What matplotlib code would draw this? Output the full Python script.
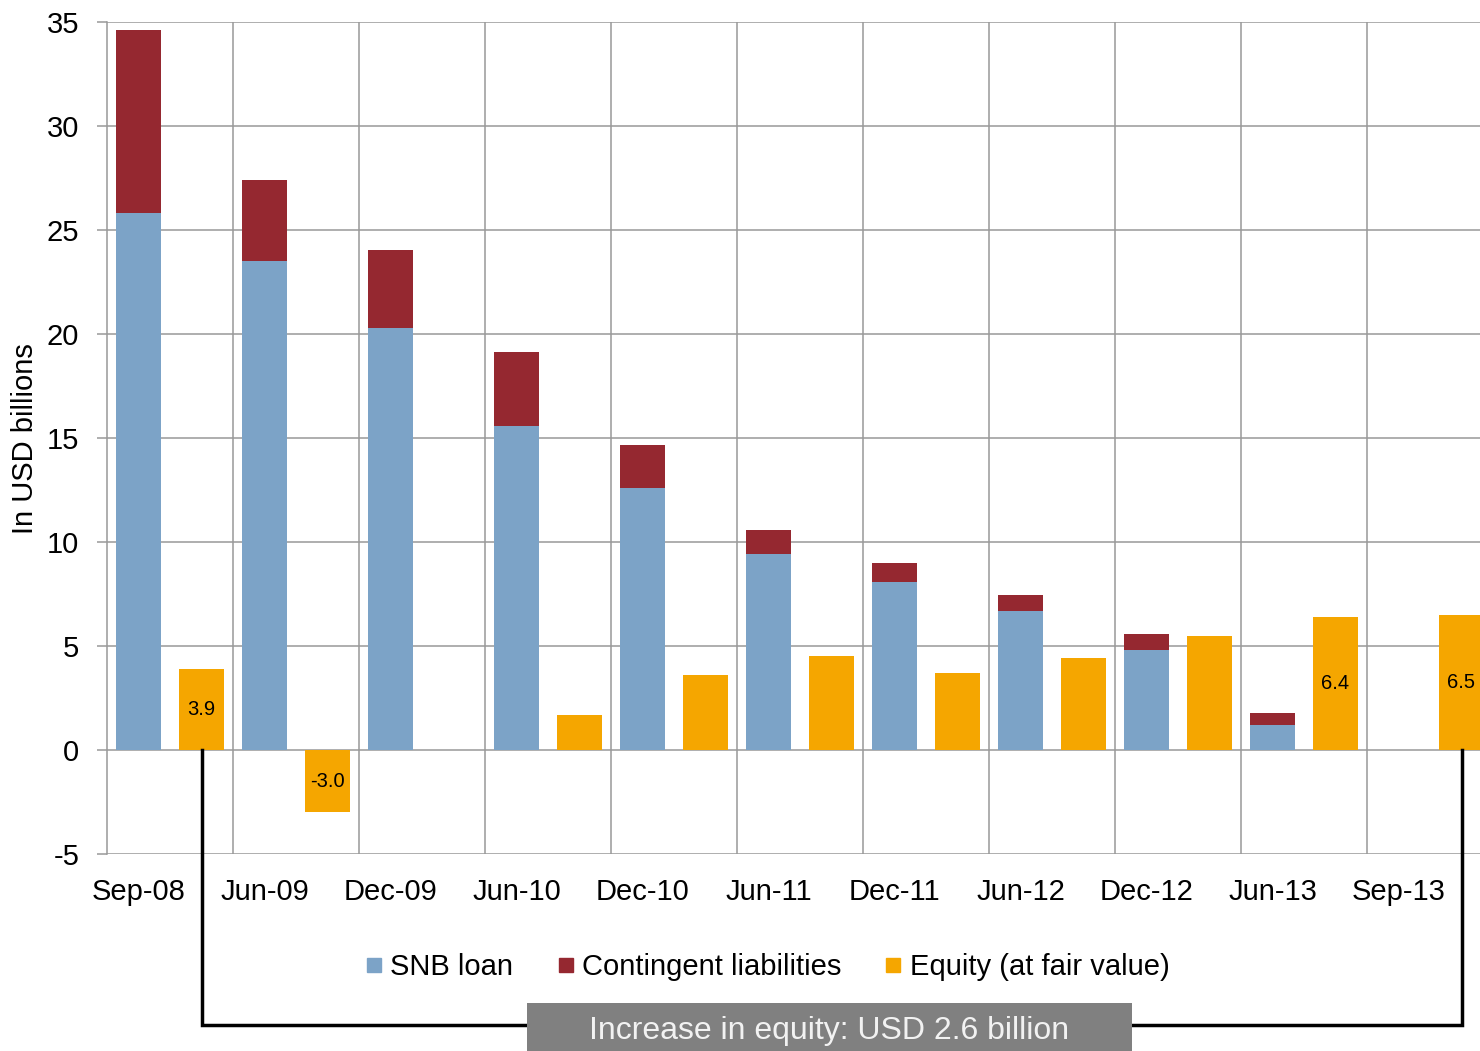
import matplotlib
matplotlib.use("Agg")
import matplotlib.pyplot as plt
import numpy as np
from matplotlib.patches import Rectangle
from matplotlib.lines import Line2D

plt.rcParams["font.family"] = ["Liberation Sans", "DejaVu Sans"]
plt.rcParams["axes.unicode_minus"] = False

periods = ["Sep-08", "Jun-09", "Dec-09", "Jun-10", "Dec-10", "Jun-11",
           "Dec-11", "Jun-12", "Dec-12", "Jun-13", "Sep-13"]
snb_loan = [25.8, 23.5, 20.3, 15.6, 12.6, 9.4, 8.1, 6.7, 4.8, 1.2, np.nan]
contingent = [8.8, 3.9, 3.75, 3.55, 2.05, 1.2, 0.9, 0.75, 0.8, 0.6, np.nan]
equity = [3.9, -3.0, np.nan, 1.7, 3.6, 4.5, 3.7, 4.4, 5.5, 6.4, 6.5]
labelled_equity = ["Sep-08", "Jun-09", "Jun-13", "Sep-13"]
bracket_text = "Increase in equity: USD 2.6 billion"

c_loan = "#7CA3C7"
c_cont = "#952830"
c_eq = "#F5A600"
c_grid = "#999999"

fig = plt.figure(figsize=(14.8, 10.51), dpi=100)
# axes run slightly past the right edge of the figure
ax = fig.add_axes([107 / 1480, 197 / 1051, 1386 / 1480, 832 / 1051])

n = len(periods)
x_stack = np.arange(n) * 2
x_eq = x_stack + 1
w = 0.73

ax.bar(x_stack, snb_loan, w, color=c_loan, label="SNB loan", zorder=3)
ax.bar(x_stack, contingent, w, bottom=snb_loan, color=c_cont,
       label="Contingent liabilities", zorder=3)
ax.bar(x_eq, equity, w, color=c_eq, label="Equity (at fair value)", zorder=3)

for p, xe, v in zip(periods, x_eq, equity):
    if p in labelled_equity:
        ax.text(xe, v / 2, f"{v:.1f}", ha="center", va="center",
                fontsize=14.5, zorder=4)

ax.set_xlim(-0.5, 2 * n - 0.5)
ax.set_ylim(-5, 35)
ax.set_yticks(np.arange(-5, 36, 5))
ax.set_xticks(x_stack)
ax.set_xticklabels(periods)
ax.set_xticks(np.arange(1.5, 2 * n - 1, 2), minor=True)

for s in ["top", "right", "bottom"]:
    ax.spines[s].set_visible(False)
ax.spines["left"].set_color(c_grid)
ax.spines["left"].set_linewidth(1.1)

ax.grid(axis="y", which="major", color=c_grid, linewidth=1.1, zorder=0)
ax.grid(axis="x", which="minor", color=c_grid, linewidth=1.1, zorder=0)
ax.set_axisbelow(True)

ax.tick_params(axis="y", length=7, width=1.1, color=c_grid, pad=13,
               labelsize=21)
ax.tick_params(axis="x", which="both", length=0, pad=17, labelsize=21)

fig.text(25 / 1480, 1 - 439 / 1051, "In USD billions", rotation=90,
         ha="center", va="center", fontsize=21)

handles = [Line2D([], [], marker="s", linestyle="none", markersize=10,
                  color=c) for c in (c_loan, c_cont, c_eq)]
fig.legend(handles, ["SNB loan", "Contingent liabilities", "Equity (at fair value)"],
           loc="center", bbox_to_anchor=(768 / 1480, 1 - 967 / 1051), ncol=3,
           frameon=False, fontsize=21, handlelength=0.5, handletextpad=0.3,
           columnspacing=1.55)

# bracket linking the first and last equity bars
yb = -13.2
ax.plot([x_eq[0], x_eq[0], 6.7], [0, yb, yb], color="black", lw=2.5,
        clip_on=False, zorder=5, solid_joinstyle="miter")
ax.plot([15.4, x_eq[-1], x_eq[-1]], [yb, yb, 0], color="black", lw=2.5,
        clip_on=False, zorder=5, solid_joinstyle="miter")

fig.patches.append(Rectangle((527 / 1480, 0), 605 / 1480, 48 / 1051,
                             transform=fig.transFigure, facecolor="#808080",
                             edgecolor="none", zorder=6))
fig.text(829.5 / 1480, 1 - 1031 / 1051, bracket_text, ha="center",
         va="center", color="#F2F2F2", fontsize=23, zorder=7)

fig.savefig("out.png", dpi=100)
